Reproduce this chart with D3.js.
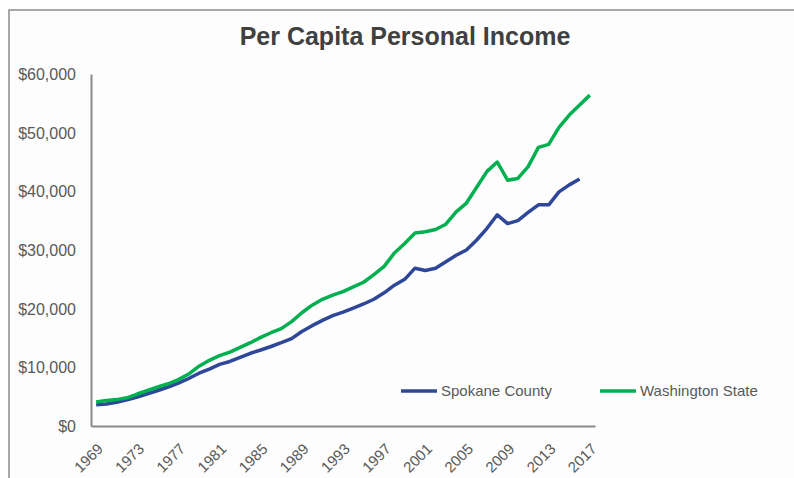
<!DOCTYPE html>
<html>
<head>
<meta charset="utf-8">
<script src="https://cdn.jsdelivr.net/npm/d3@7"></script>
<style>
  body { margin: 0; background: #fff; }
  svg text { font-family: "Liberation Sans", Arial, sans-serif; }
  .y-axis .tick text { fill: #595959; font-size: 16px; }
  .x-axis .tick text { fill: #595959; font-size: 15px; }
  .domain { stroke: #898989; stroke-width: 2; }
  .series { fill: none; stroke-width: 3.5; stroke-linejoin: round; }
  .legend-text { fill: #595959; font-size: 15px; }
</style>
</head>
<body>
<svg width="794" height="478"></svg>
<script>
const years = d3.range(1969, 2018).map(String);

// Spokane County, 1969-2016
const spokane = [
  3600, 3750, 4050, 4450, 4950, 5500, 6050, 6650, 7300, 8100,
  9000, 9700, 10500, 11000, 11700, 12400, 12950, 13550, 14200, 14900,
  16100, 17100, 18000, 18800, 19400, 20100, 20800, 21600, 22700, 24000,
  25000, 26900, 26500, 26900, 28000, 29100, 30000, 31700, 33700, 36000,
  34500, 35000, 36400, 37700, 37700, 39900, 41100, 42100
];

// Washington State, 1969-2017
const washington = [
  4100, 4350, 4500, 4800, 5450, 6050, 6650, 7200, 7900, 8850,
  10200, 11200, 12000, 12600, 13400, 14200, 15100, 15900, 16600, 17800,
  19300, 20600, 21600, 22300, 22900, 23700, 24500, 25800, 27200, 29500,
  31100, 32900, 33100, 33500, 34400, 36500, 38000, 40700, 43400, 45000,
  41900, 42200, 44200, 47500, 48000, 50900, 53000, 54700, 56400
];

const seriesNames = ['Spokane County', 'Washington State'];
const seriesColors = ['#2E4799', '#00B050'];
const yTicks = [0, 10000, 20000, 30000, 40000, 50000, 60000];

const svg = d3.select('svg');

// chart frame
svg.append('rect')
    .attr('x', 9).attr('y', 10)
    .attr('width', 800).attr('height', 480)
    .attr('fill', '#fdfdfd')
    .attr('stroke', '#8c8c8c')
    .attr('stroke-width', 1.5);

svg.append('text')
    .attr('x', 405).attr('y', 45)
    .attr('text-anchor', 'middle')
    .attr('font-size', 25)
    .attr('font-weight', 'bold')
    .attr('fill', '#404040')
    .text('Per Capita Personal Income');

const x = d3.scaleBand().domain(years).range([91, 595]);
const y = d3.scaleLinear().domain([0, 60000]).range([426, 74]);
const xPos = (d, i) => x(years[i]) + x.bandwidth() / 2;

const yAxisG = svg.append('g')
    .attr('class', 'y-axis')
    .attr('transform', 'translate(91,0)')
    .call(d3.axisLeft(y).tickValues(yTicks).tickSize(0).tickPadding(15)
        .tickFormat(d3.format('$,')));
yAxisG.selectAll('.tick text').attr('dy', '0.35em');

const xAxisG = svg.append('g')
    .attr('class', 'x-axis')
    .attr('transform', 'translate(0,426)')
    .call(d3.axisBottom(x)
        .tickValues(years.filter((d, i) => i % 4 === 0))
        .tickSize(0));
xAxisG.selectAll('.tick text')
    .attr('text-anchor', 'end')
    .attr('dy', '0.35em')
    .attr('transform', 'translate(2,18) rotate(-45)');

const line = d3.line().x(xPos).y(d => y(d));

[spokane, washington].forEach((values, k) => {
  svg.append('path')
      .datum(values)
      .attr('class', 'series')
      .attr('stroke', seriesColors[k])
      .attr('d', line);
});

// legend
const legendX = [401, 600];
seriesNames.forEach((name, k) => {
  const g = svg.append('g').attr('transform', `translate(${legendX[k]},391)`);
  g.append('line')
      .attr('x1', 0).attr('x2', 36)
      .attr('stroke', seriesColors[k])
      .attr('stroke-width', 3.5);
  g.append('text')
      .attr('class', 'legend-text')
      .attr('x', 40).attr('dy', '0.35em')
      .text(name);
});
</script>
</body>
</html>
